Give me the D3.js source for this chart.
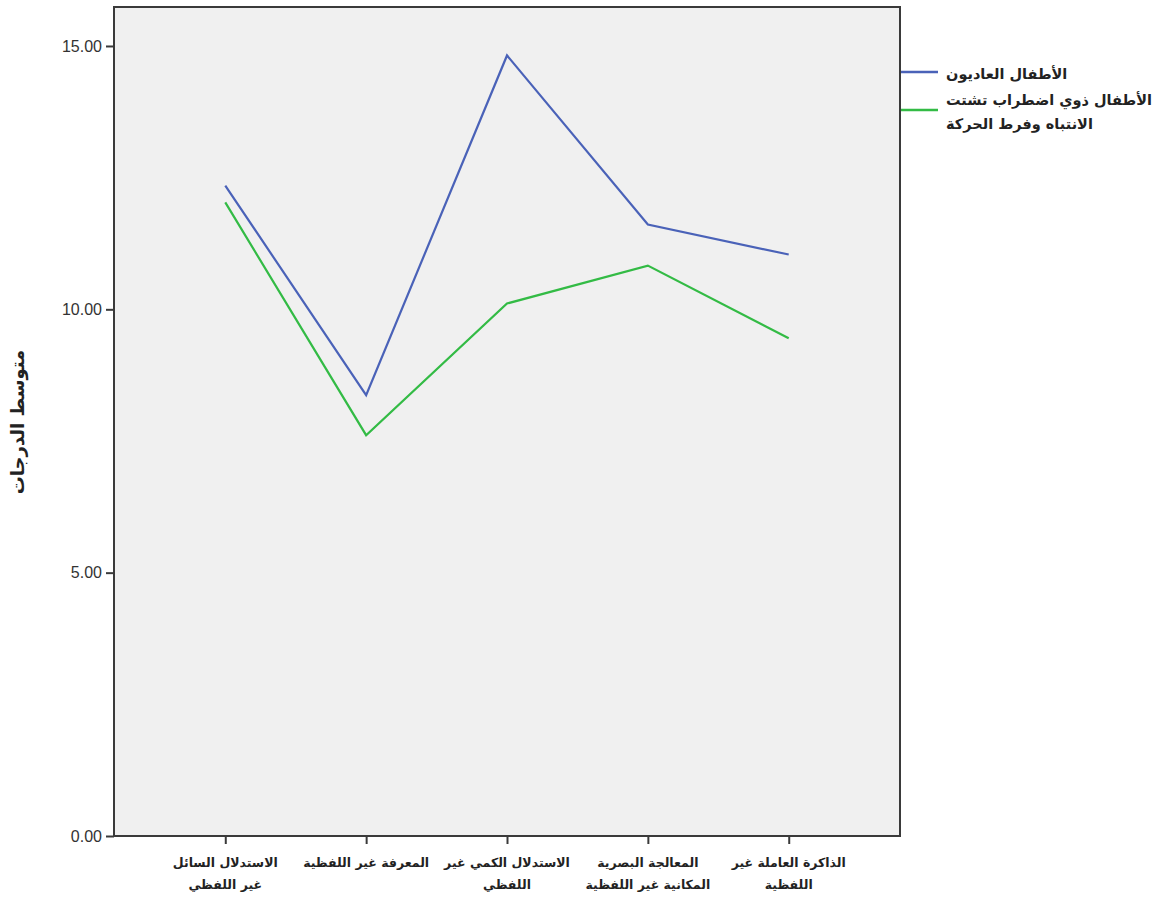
<!DOCTYPE html>
<html><head><meta charset="utf-8">
<script src="https://cdn.jsdelivr.net/npm/d3@7"></script>
<style>body{margin:0;background:#fff}svg{display:block}</style>
</head><body>
<script>
const categories = [
  ["الاستدلال السائل", "غير اللفظي"],
  ["المعرفة غير اللفظية"],
  ["الاستدلال الكمي غير", "اللفظي"],
  ["المعالجة البصرية", "المكانية غير اللفظية"],
  ["الذاكرة العاملة غير", "اللفظية"]
];
const seriesNames = [
  ["الأطفال العاديون"],
  ["الأطفال ذوي اضطراب تشتت ", "الانتباه وفرط الحركة"]
];
const normalValues = [12.35, 8.37, 14.82, 11.61, 11.04];
const adhdValues = [12.03, 7.61, 10.11, 10.83, 9.45];
const yTicks = [0, 5, 10, 15];
const yTitle = "متوسط الدرجات";
const colors = ["#4a62b8", "#33bb45"];

const W = 1171, H = 900;
const svg = d3.select("body").append("svg").attr("width", W).attr("height", H);
const L = 114, R = 900, T = 7, B = 836;

const x = d3.scalePoint().domain(d3.range(categories.length)).range([L, R]).padding(0.79);
const y = d3.scaleLinear().domain([0, 15.74]).range([B, T]);

svg.append("rect").attr("x", L).attr("y", T).attr("width", R - L).attr("height", B - T)
  .attr("fill", "#f0f0f0").attr("stroke", "#3a3a3a").attr("stroke-width", 2);

const yAxis = svg.append("g").attr("transform", `translate(${L},0)`)
  .call(d3.axisLeft(y).tickValues(yTicks).tickFormat(d3.format(".2f")).tickSize(8).tickPadding(4));
yAxis.select(".domain").remove();
yAxis.selectAll("line").attr("stroke", "#3a3a3a").attr("stroke-width", 2);
yAxis.selectAll("text").attr("font-family", "Liberation Sans, Arial, sans-serif").attr("font-size", 16).attr("fill", "#333");

const xAxis = svg.append("g").attr("transform", `translate(0,${B})`)
  .call(d3.axisBottom(x).tickFormat("").tickSize(8));
xAxis.select(".domain").remove();
xAxis.selectAll("line").attr("stroke", "#3a3a3a").attr("stroke-width", 2);

categories.forEach((lines, i) => {
  lines.forEach((t, j) => {
    svg.append("text").attr("x", x(i)).attr("y", 867 + j * 22)
      .attr("text-anchor", "middle").attr("font-family", "DejaVu Sans, sans-serif")
      .attr("font-weight", "bold").attr("font-size", 12.5).attr("fill", "#222").text(t);
  });
});

svg.append("text").attr("transform", `translate(24,422) rotate(-90)`)
  .attr("text-anchor", "middle").attr("font-family", "DejaVu Sans, sans-serif")
  .attr("font-weight", "bold").attr("font-size", 18).attr("fill", "#222").text(yTitle);

const line = d3.line().x((d, i) => x(i)).y(d => y(d));
[normalValues, adhdValues].forEach((vals, k) => {
  svg.append("path").datum(vals).attr("d", line).attr("fill", "none")
    .attr("stroke", colors[k]).attr("stroke-width", 2.2).attr("stroke-linejoin", "miter");
});

// legend
const legY = [72, 110];
const textY = [[79], [105, 129]];
seriesNames.forEach((lines, k) => {
  svg.append("line").attr("x1", 901).attr("x2", 938).attr("y1", legY[k]).attr("y2", legY[k])
    .attr("stroke", colors[k]).attr("stroke-width", 2.5);
  lines.forEach((t, j) => {
    svg.append("text").attr("x", 946).attr("y", textY[k][j]).attr("direction", "ltr")
      .attr("text-anchor", "start").attr("font-family", "DejaVu Sans, sans-serif")
      .attr("font-weight", "bold").attr("font-size", 14.5).attr("fill", "#222").text(t);
  });
});
</script>
</body></html>
